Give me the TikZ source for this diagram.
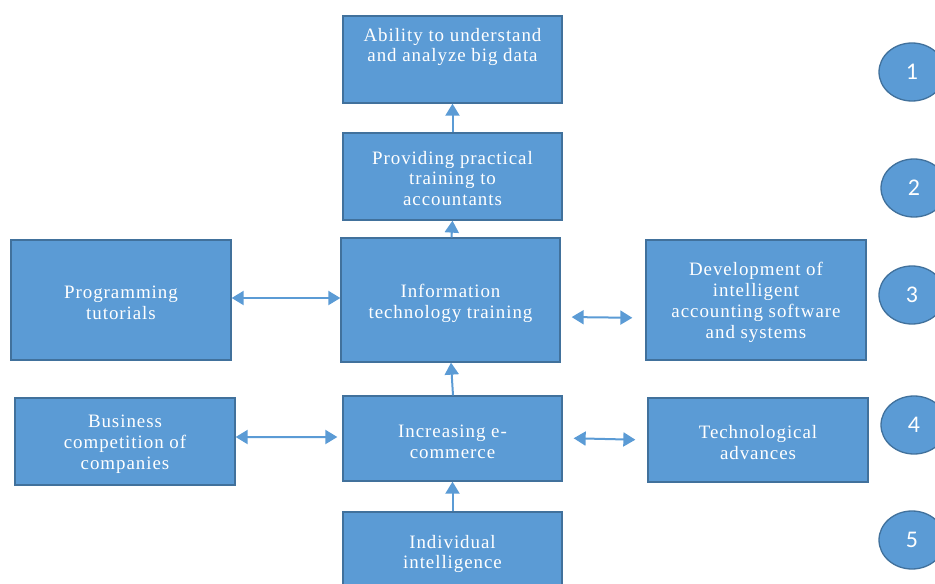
\documentclass[tikz,border=0pt]{standalone}
\usepackage{fontspec}
\setmainfont{Liberation Serif}[LetterSpace=5]
\newfontfamily\circfont{Carlito}
\usetikzlibrary{arrows.meta,shapes.geometric}
\definecolor{boxfill}{HTML}{5B9BD5}
\definecolor{boxline}{HTML}{41719C}
\tikzset{
  blockbox/.style={draw=boxline, line width=1.3bp, fill=boxfill, inner sep=0pt},
  boxtext/.style={text=white, align=center, inner sep=0pt, font=\fontsize{19}{21}\selectfont},
  numcirc/.style={ellipse, draw=boxline, line width=1.3bp, fill=boxfill, text=white,
    minimum width=66bp, minimum height=58bp, inner sep=0pt, font=\circfont\fontsize{24}{26}\selectfont},
  arr/.style={draw=boxfill, line width=2bp, -{Triangle[length=12bp,width=14bp]}},
  darr/.style={draw=boxfill, line width=2bp, {Triangle[length=12bp,width=14bp]}-{Triangle[length=12bp,width=14bp]}},
}
% #1 name, #2 position, #3 width, #4 height, #5 text offset, #6 text
\newcommand\myblock[6]{%
  \node[blockbox, minimum width=#3, minimum height=#4] (#1) at #2 {};
  \node[boxtext] (#1text) at ([yshift=#5]#1.center) {#6};}
\begin{document}
\begin{tikzpicture}[x=1bp,y=-1bp]
\useasboundingbox (0,0) rectangle (935,584);
\clip (0,0) rectangle (935,584);
% boxes
\myblock{ability}{(452.5,59.5)}{219bp}{87bp}{12.5bp}{Ability to understand\\and analyze big data}
\myblock{providing}{(452.5,176.5)}{219bp}{87bp}{-2bp}{Providing practical\\training to\\accountants}
\myblock{info}{(450.5,300)}{219bp}{124bp}{-3bp}{Information\\technology training}
\myblock{prog}{(121,300)}{220bp}{120bp}{-3bp}{Programming\\tutorials}
\myblock{dev}{(756,300)}{220bp}{120bp}{-2bp}{Development of\\intelligent\\accounting software\\and systems}
\myblock{bus}{(125,441.5)}{220bp}{87bp}{-2.5bp}{Business\\competition of\\companies}
\myblock{inc}{(452.5,438.5)}{219bp}{85bp}{-3bp}{Increasing e-\\commerce}
\myblock{tech}{(758,440)}{220bp}{84bp}{-2.5bp}{Technological\\advances}
\myblock{indiv}{(452.5,552)}{219bp}{80bp}{-2bp}{Individual\\intelligence}
% numbered circles
\node[numcirc] (c1) at (912,72) {1};
\node[numcirc] (c2) at (914,188) {2};
\node[numcirc] (c3) at (912,295) {3};
\node[numcirc] (c4) at (914,425) {4};
\node[numcirc] (c5) at (912,540) {5};
% arrows
\draw[arr] (providing.north) -- (ability.south);
\draw[arr] ([xshift=1]info.north) -- (providing.south);
\draw[arr] ([xshift=0.5]inc.north) -- ([xshift=0.5]info.south);
\draw[arr] (indiv.north) -- (inc.south);
\draw[darr] ([yshift=2]prog.east) -- ([yshift=2]info.west);
\draw[darr, shorten <=11bp, shorten >=13bp] ([yshift=-17]info.east) -- ([yshift=-18]dev.west);
\draw[darr, shorten >=5bp] ([yshift=4.5]bus.east) -- ([yshift=1.5]inc.west);
\draw[darr, shorten <=11bp, shorten >=12bp] ([yshift=0.5]inc.east) -- (tech.west);
\end{tikzpicture}
\end{document}
